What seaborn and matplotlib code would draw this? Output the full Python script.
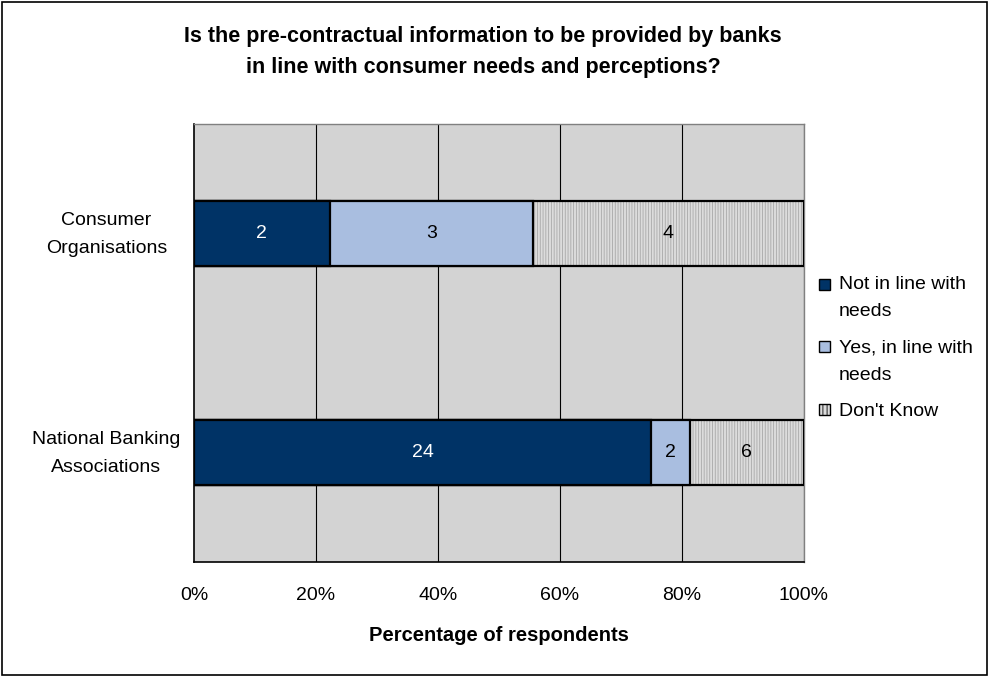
import matplotlib
matplotlib.use("Agg")
import matplotlib.pyplot as plt
import matplotlib.transforms as mtransforms
import seaborn as sns
import pandas as pd
import numpy as np
from matplotlib.patches import Rectangle

groups = ["Consumer\nOrganisations", "National Banking\nAssociations"]
series = ["Not in line with\nneeds", "Yes, in line with\nneeds", "Don't Know"]
not_in_line = [2, 24]
yes_in_line = [3, 2]
dont_know = [4, 6]
x_ticks = [0, 20, 40, 60, 80, 100]
x_ticklabels = ["0%", "20%", "40%", "60%", "80%", "100%"]

colors = ["#003366", "#A9BEE0", "#D9D9D9"]

sns.set_style("white")
plt.rcParams["font.family"] = ["Liberation Sans", "DejaVu Sans"]
plt.rcParams["hatch.linewidth"] = 0.6
plt.rcParams["text.color"] = "black"
plt.rcParams["xtick.color"] = "black"
plt.rcParams["ytick.color"] = "black"
plt.rcParams["axes.labelcolor"] = "black"

counts = np.array([not_in_line, yes_in_line, dont_know], dtype=float)
totals = counts.sum(axis=0)
pct = counts / totals * 100
cum = np.cumsum(pct, axis=0)

df = pd.DataFrame({
    "group": groups,
    "c1": cum[0], "c2": cum[1], "c3": cum[2],
})

fig = plt.figure(figsize=(9.89, 6.77), dpi=100)
ax = fig.add_axes([194/989, 1-562/677, (804-194)/989, (562-124)/677])
ax.set_facecolor("#D3D3D3")

bw = 0.3
sns.barplot(data=df, y="group", x="c3", orient="h", color="#DCDCDC", width=bw,
            edgecolor="#A8A8A8", linewidth=0, hatch="||||||", ax=ax, saturation=1, zorder=3)
sns.barplot(data=df, y="group", x="c2", orient="h", color=colors[1], width=bw,
            edgecolor="black", linewidth=1.6, ax=ax, saturation=1, zorder=4)
sns.barplot(data=df, y="group", x="c1", orient="h", color=colors[0], width=bw,
            edgecolor="black", linewidth=1.6, ax=ax, saturation=1, zorder=5)
sns.barplot(data=df, y="group", x="c3", orient="h", fill=False, width=bw,
            edgecolor="black", linewidth=1.6, ax=ax, zorder=3.5)

starts = np.vstack([np.zeros(len(groups)), cum[:-1]])
for s in range(3):
    for g in range(len(groups)):
        cx = starts[s, g] + pct[s, g] / 2
        ax.text(cx, g, f"{int(counts[s, g])}", ha="center", va="center",
                fontsize=14, color="white" if s == 0 else "black", zorder=6)

ax.set_xlim(0, 100)
ax.set_ylim(1.5, -0.5)
ax.set_xticks(x_ticks)
ax.set_xticklabels(x_ticklabels, fontsize=14)
for xv in x_ticks[1:]:
    ax.axvline(xv, color="black", linewidth=0.8, zorder=1)

ax.set_yticks([0, 1])
ax.set_yticklabels(groups, fontsize=14, ha="center", multialignment="center")
ax.tick_params(axis="y", which="major", length=0, pad=63)
ax.set_yticks([-0.5, 0.5, 1.5], minor=True)
ax.tick_params(axis="y", which="minor", length=6, width=1, color="black", direction="out")
ax.tick_params(axis="x", which="major", length=5, width=1, color="black", direction="out", pad=13)
ax.set_ylabel("")
ax.set_xlabel("Percentage of respondents", fontsize=14.5, fontweight="bold", labelpad=16)

lift = mtransforms.ScaledTranslation(0, 6.5/100, fig.dpi_scale_trans)
for lbl in ax.get_yticklabels():
    lbl.set_linespacing(1.85)
    lbl.set_transform(lbl.get_transform() + lift)

for side in ["left", "bottom"]:
    ax.spines[side].set_color("black")
    ax.spines[side].set_linewidth(1.2)
for side in ["top", "right"]:
    ax.spines[side].set_visible(True)
    ax.spines[side].set_color("#808080")
    ax.spines[side].set_linewidth(1)

fig.text(483/989, 1-52/677,
         "Is the pre-contractual information to be provided by banks\nin line with consumer needs and perceptions?",
         ha="center", va="center", fontsize=15.5, fontweight="bold", linespacing=1.64)

# legend (drawn manually so the marker aligns with the first text line)
leg_fill = [colors[0], colors[1], "#DCDCDC"]
leg_hatch = [None, None, "||||"]
leg_marker_y = [284, 346, 409]
leg_text_y = [298, 361.5, 411]
for i, lab in enumerate(series):
    fig.add_artist(Rectangle((819/989, 1-(leg_marker_y[i]+5.5)/677), 11/989, 11/677,
                             transform=fig.transFigure, facecolor=leg_fill[i],
                             edgecolor="black", linewidth=1, hatch=leg_hatch[i]))
    fig.text(839/989, 1-leg_text_y[i]/677, lab, ha="left", va="center",
             fontsize=14, linespacing=1.8)

fig.add_artist(Rectangle((2/989, 2/677), 985/989, 673/677, transform=fig.transFigure,
                         fill=False, edgecolor="black", linewidth=1.2))

fig.savefig("out.png", dpi=100)
